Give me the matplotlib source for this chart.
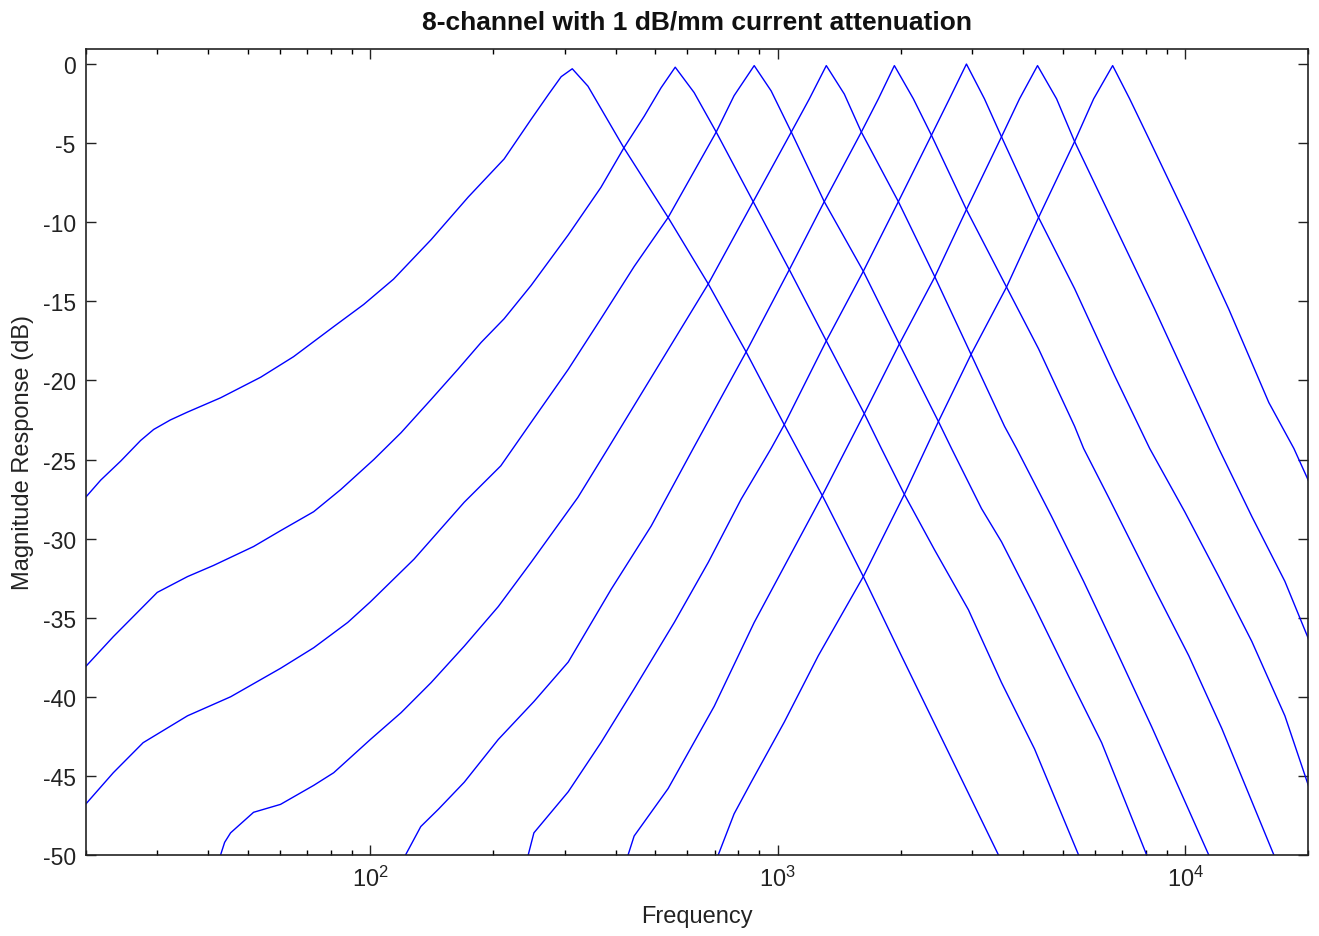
import matplotlib
matplotlib.use("Agg")
import matplotlib.pyplot as plt
from matplotlib.ticker import FixedLocator, FixedFormatter, LogLocator, NullFormatter

plt.rcParams['font.family'] = ['Liberation Sans', 'DejaVu Sans']
plt.rcParams['mathtext.fontset'] = 'custom'
plt.rcParams['mathtext.rm'] = 'Liberation Sans'

title = "8-channel with 1 dB/mm current attenuation"
xlabel = "Frequency"
ylabel = "Magnitude Response (dB)"

# channel responses (frequency in Hz, magnitude in dB)
freq_ch1 = [20, 21.8, 24.4, 27.3, 29.4, 32.3, 35.6, 42.9, 53.8, 64.8, 81.3, 96.3, 114, 141, 174, 213, 248, 274,
            294, 313, 342, 419, 538, 675, 836, 1037, 1293, 1621, 2010, 2622, 3479]
db_ch1 = [-27.4, -26.3, -25.1, -23.8, -23.1, -22.5, -22.0, -21.1, -19.8, -18.5, -16.6, -15.2, -13.6, -11.1,
          -8.4, -6.0, -3.5, -1.9, -0.8, -0.3, -1.4, -5.3, -9.7, -13.9, -18.2, -22.8, -27.4, -32.4, -37.4,
          -43.5, -50.0]

freq_ch2 = [20, 23.4, 30.0, 35.6, 41.2, 51.7, 60.2, 72.6, 84.6, 102, 119, 141, 164, 187, 213, 248, 306, 368,
            419, 470, 517, 560, 623, 706, 870, 1067, 1315, 1630, 1795, 2044, 2423, 2936, 3539, 4266, 5471]
db_ch2 = [-38.1, -36.2, -33.4, -32.4, -31.7, -30.5, -29.5, -28.3, -26.9, -25.0, -23.3, -21.2, -19.3, -17.6,
          -16.1, -14.0, -10.8, -7.8, -5.3, -3.3, -1.5, -0.2, -1.8, -4.3, -8.7, -13.0, -17.5, -22.1, -24.3,
          -27.2, -30.7, -34.5, -39.1, -43.3, -50.0]

freq_ch3 = [20, 23.4, 27.7, 35.6, 45.4, 60.2, 72.6, 88.0, 100, 128, 170, 209, 252, 306, 368, 444, 538, 706,
            781, 875, 963, 1079, 1300, 1621, 1987, 2478, 2668, 3161, 3539, 4266, 5170, 6232, 8038]
db_ch3 = [-46.8, -44.8, -42.9, -41.2, -40.0, -38.2, -36.9, -35.3, -34.0, -31.3, -27.7, -25.4, -22.4, -19.3,
          -16.1, -12.8, -9.7, -4.3, -2.0, -0.1, -1.7, -4.3, -8.7, -13.1, -17.7, -22.6, -24.3, -28.1, -30.2,
          -34.3, -38.7, -42.9, -50.0]

freq_ch4 = [42.9, 43.9, 45.4, 51.7, 60.2, 72.6, 81.3, 100, 119, 141, 170, 206, 248, 323, 383, 675, 870, 1079,
            1195, 1315, 1456, 1603, 1976, 2423, 2936, 3600, 3853, 4696, 5628, 6861, 8270, 11416]
db_ch4 = [-50.0, -49.2, -48.6, -47.3, -46.8, -45.6, -44.8, -42.7, -41.0, -39.1, -36.8, -34.3, -31.5, -27.4,
          -24.3, -13.9, -8.7, -4.3, -2.2, -0.1, -1.9, -4.3, -8.7, -13.4, -18.0, -22.9, -24.3, -28.6, -32.7,
          -37.4, -41.9, -50.0]

freq_ch5 = [122, 133, 147, 170, 206, 252, 306, 390, 489, 620, 836, 1067, 1300, 1603, 1765, 1932, 2151, 2382,
            2903, 3641, 4363, 5349, 5628, 6484, 8412, 10195, 12288, 16494]
db_ch5 = [-50.0, -48.2, -47.1, -45.4, -42.7, -40.3, -37.8, -33.2, -29.2, -24.3, -18.2, -13.0, -8.7, -4.3,
          -2.2, -0.1, -2.2, -4.5, -9.2, -14.1, -18.0, -22.9, -24.3, -27.4, -33.2, -37.4, -42.0, -50.0]

freq_ch6 = [244, 252, 306, 368, 444, 557, 675, 813, 963, 1037, 1315, 1621, 1976, 2382, 2637, 2903, 3214,
            3539, 4363, 5349, 6707, 8175, 9966, 12080, 14560, 17550, 20100]
db_ch6 = [-50.0, -48.6, -46.0, -42.9, -39.5, -35.3, -31.5, -27.5, -24.3, -22.8, -17.5, -13.1, -8.7, -4.5,
          -2.2, 0.0, -2.2, -4.6, -9.7, -14.2, -19.7, -24.3, -28.3, -32.4, -36.5, -41.2, -45.7]

freq_ch7 = [429, 444, 538, 698, 875, 1278, 1630, 1987, 2423, 2903, 3539, 3918, 4338, 4831, 5349, 6707, 8412,
            10546, 12080, 14560, 17550, 20100]
db_ch7 = [-50.0, -48.8, -45.8, -40.6, -35.3, -27.4, -22.1, -17.7, -13.5, -9.2, -4.6, -2.2, -0.1, -2.2, -4.9,
          -10.2, -15.5, -21.0, -24.3, -28.6, -32.7, -36.4]

freq_ch8 = [714, 781, 860, 1037, 1257, 1621, 2044, 2478, 2987, 3641, 4363, 5349, 5957, 6632, 7301, 8131,
            10195, 12785, 16030, 18465, 20100]
db_ch8 = [-50.0, -47.4, -45.4, -41.6, -37.4, -32.4, -27.2, -22.6, -18.3, -14.1, -9.7, -4.9, -2.2, -0.1, -2.2,
          -4.7, -10.0, -15.5, -21.4, -24.3, -26.4]

y_ticks = [-50, -45, -40, -35, -30, -25, -20, -15, -10, -5, 0]
y_tick_labels = ["-50", "-45", "-40", "-35", "-30", "-25", "-20", "-15", "-10", "-5", "0"]
x_ticks = [100, 1000, 10000]
x_tick_labels = [r"$\mathregular{10^{2}}$", r"$\mathregular{10^{3}}$", r"$\mathregular{10^{4}}$"]

W, H = 1319, 937
fig = plt.figure(figsize=(W / 100, H / 100), dpi=100)
ax = fig.add_axes([85.5 / W, 81 / H, (1308 - 85.5) / W, (887 - 81) / H])

channels = [(freq_ch1, db_ch1), (freq_ch2, db_ch2), (freq_ch3, db_ch3), (freq_ch4, db_ch4),
            (freq_ch5, db_ch5), (freq_ch6, db_ch6), (freq_ch7, db_ch7), (freq_ch8, db_ch8)]
for f, d in channels:
    ax.plot(f, d, color='#0000ff', lw=1.0)

ax.set_xscale('log')
ax.set_xlim(20, 20000)
ax.set_ylim(-50, 0.95)

ax.xaxis.set_major_locator(FixedLocator(x_ticks))
ax.xaxis.set_major_formatter(FixedFormatter(x_tick_labels))
ax.xaxis.set_minor_locator(LogLocator(base=10, subs=range(2, 10), numticks=20))
ax.xaxis.set_minor_formatter(NullFormatter())
ax.set_yticks(y_ticks)
ax.set_yticklabels(y_tick_labels)

ax.tick_params(axis='both', which='major', direction='in', length=7, width=1.0,
               top=True, right=True, labelsize=16.5, colors='#222222', pad=7)
ax.tick_params(axis='both', which='minor', direction='in', length=3.5, width=1.0,
               top=True, right=True)
ax.tick_params(axis='x', which='major', pad=8, labelsize=17)
for s in ax.spines.values():
    s.set_linewidth(1.2)
    s.set_color('#222222')

ax.set_xlabel(xlabel, fontsize=17, color='#222222', labelpad=10)
ax.set_ylabel(ylabel, fontsize=17, color='#222222', labelpad=6)
ax.set_title(title, fontsize=19, fontweight='bold', color='#111111', pad=15)

fig.savefig("out.png", dpi=100)
